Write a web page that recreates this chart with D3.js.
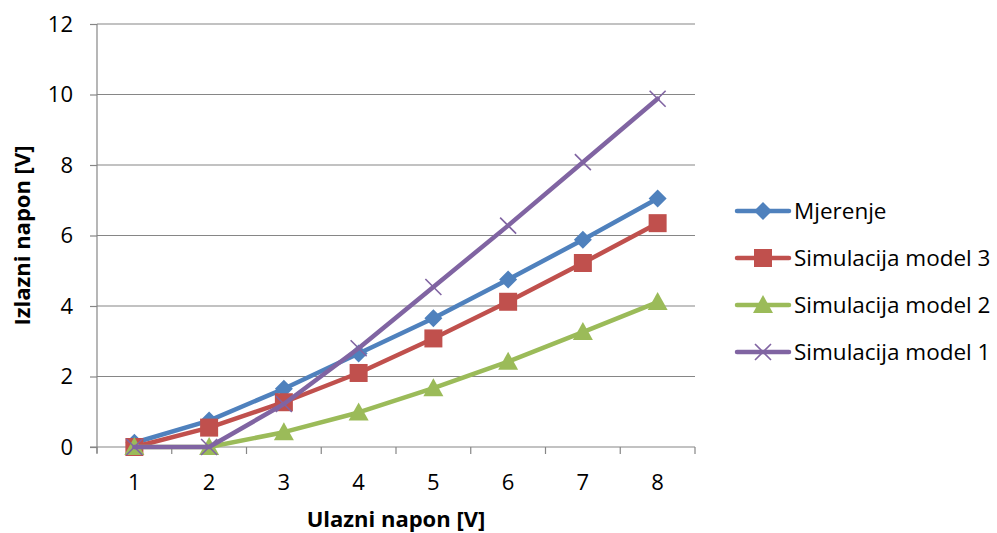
<!DOCTYPE html>
<html><head><meta charset="utf-8">
<script src="https://cdn.jsdelivr.net/npm/d3@7"></script>
<style>body{margin:0;background:#fff}svg{display:block}</style>
</head><body>
<svg id="c" width="997" height="533"></svg>
<script>
const categories = ["1","2","3","4","5","6","7","8"];
const mjerenje = [0.12, 0.75, 1.65, 2.65, 3.65, 4.75, 5.88, 7.05];
const model3 = [0, 0.55, 1.27, 2.1, 3.08, 4.12, 5.22, 6.35];
const model2 = [0, 0, 0.42, 0.98, 1.67, 2.42, 3.26, 4.11];
const model1 = [0, 0, 1.22, 2.8, 4.54, 6.28, 8.08, 9.88];
const seriesNames = ["Mjerenje","Simulacija model 3","Simulacija model 2","Simulacija model 1"];
const yTicks = [0,2,4,6,8,10,12];
const xTitle = "Ulazni napon [V]";
const yTitle = "Izlazni napon [V]";

const colors = ["#4F81BD","#C0504D","#9BBB59","#8064A2"];
const shapes = ["diamond","square","triangle","x"];
const series = [mjerenje, model3, model2, model1].map((v,i)=>({name:seriesNames[i], values:v, color:colors[i], shape:shapes[i]}));

const svg = d3.select("#c");
const font = "'Open Sans', sans-serif";
const L=97, R=695, T=24, B=447;
const x = d3.scaleBand().domain(categories).range([L,R]);
const y = d3.scaleLinear().domain([0,12]).range([B,T]);

// gridlines
svg.append("g").selectAll("line").data(yTicks.filter(d=>d>0)).join("line")
  .attr("x1",L).attr("x2",R).attr("y1",d=>y(d)).attr("y2",d=>y(d))
  .attr("stroke","#868686").attr("stroke-width",1.2);

// y axis
const ya = svg.append("g").attr("transform",`translate(${L},0)`)
  .call(d3.axisLeft(y).tickValues(yTicks).tickSize(7).tickPadding(17).tickFormat(d3.format("d")));
ya.select(".domain").attr("stroke","#868686").attr("stroke-width",1.2).attr("d",`M-0,${B+6}V${T}`);
ya.selectAll(".tick line").attr("stroke","#868686").attr("stroke-width",1.2);
ya.selectAll("text").attr("font-family",font).attr("font-size",22).attr("fill","#000");

// x axis
const xa = svg.append("g").attr("transform",`translate(0,${B})`);
xa.append("line").attr("x1",L-7).attr("x2",R).attr("y1",0).attr("y2",0).attr("stroke","#868686").attr("stroke-width",1.2);
const bounds = categories.map(c=>x(c)).concat([R]);
xa.selectAll("line.t").data(bounds).join("line").attr("class","t")
  .attr("x1",d=>d).attr("x2",d=>d).attr("y1",0).attr("y2",7).attr("stroke","#868686").attr("stroke-width",1.2);
xa.selectAll("text").data(categories).join("text")
  .attr("x",d=>x(d)+x.bandwidth()/2).attr("y",43).attr("text-anchor","middle")
  .attr("font-family",font).attr("font-size",22).attr("fill","#000").text(d=>d);

// titles
svg.append("text").attr("x",(L+R)/2).attr("y",527).attr("text-anchor","middle")
  .attr("font-family",font).attr("font-size",22).attr("font-weight","bold").text(xTitle);
svg.append("text").attr("transform",`translate(30,${(T+B)/2}) rotate(-90)`).attr("text-anchor","middle")
  .attr("font-family",font).attr("font-size",22).attr("font-weight","bold").text(yTitle);

const cx = c=>x(c)+x.bandwidth()/2;
const line = d3.line().x((d,i)=>cx(categories[i])).y(d=>y(d));

function marker(g, shape, color, px, py, scale=1){
  if(shape==="diamond"){
    const s=9*scale;
    g.append("path").attr("d",`M${px},${py-s}L${px+s},${py}L${px},${py+s}L${px-s},${py}Z`).attr("fill",color);
  } else if(shape==="square"){
    const s=9*scale;
    g.append("rect").attr("x",px-s).attr("y",py-s).attr("width",2*s).attr("height",2*s).attr("fill",color);
  } else if(shape==="triangle"){
    const s=10*scale;
    g.append("path").attr("d",`M${px},${py-s}L${px+s},${py+s*0.8}L${px-s},${py+s*0.8}Z`).attr("fill",color);
  } else {
    const s=8*scale;
    g.append("path").attr("d",`M${px-s},${py-s}L${px+s},${py+s}M${px+s},${py-s}L${px-s},${py+s}`)
      .attr("stroke",color).attr("stroke-width",1.6).attr("fill","none");
  }
}

series.forEach(s=>{
  const g = svg.append("g");
  g.append("path").datum(s.values).attr("d",line).attr("fill","none")
    .attr("stroke",s.color).attr("stroke-width",4.5).attr("stroke-linejoin","round").attr("stroke-linecap","round");
  s.values.forEach((v,i)=>marker(g,s.shape,s.color,cx(categories[i]),y(v)));
});

// legend
const lg = svg.append("g");
series.forEach((s,i)=>{
  const ly = 211 + i*47;
  lg.append("line").attr("x1",737).attr("x2",789).attr("y1",ly).attr("y2",ly)
    .attr("stroke",s.color).attr("stroke-width",4.5).attr("stroke-linecap","round");
  marker(lg,s.shape,s.color,763,ly);
  lg.append("text").attr("x",794).attr("y",ly).attr("dy","0.36em")
    .attr("font-family",font).attr("font-size",22.5).attr("fill","#000").text(s.name);
});
</script>
</body></html>
